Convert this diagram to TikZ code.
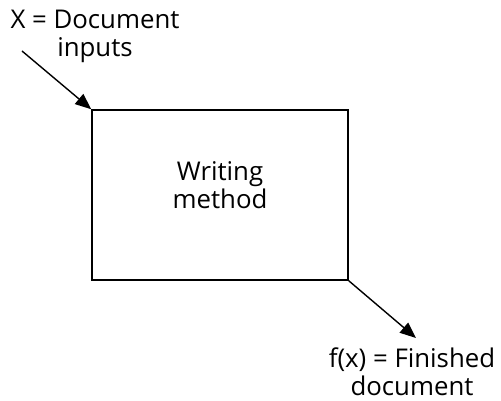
\documentclass[tikz,border=0pt]{standalone}
\usepackage{fontspec}
\setmainfont{Open Sans}
\usetikzlibrary{arrows.meta}
\begin{document}
\begin{tikzpicture}[x=1pt,y=-1pt,
  lbl/.style={align=center,font=\fontsize{25.8}{28}\selectfont,inner sep=0pt},
  box/.style={draw,line width=1.5pt,minimum width=256pt,minimum height=170pt,inner sep=0pt},
  arr/.style={line width=1.4pt,-{Triangle[length=16pt,width=13pt]}}]
\useasboundingbox (0,0) rectangle (501,401);
\node[box] (m) at (220,195) {};
\node[lbl] (wm) at (220,185) {Writing\\method};
\node[lbl] (x) at (95,36) {X = Document\\inputs};
\node[lbl] (f) at (412,372) {f(x) = Finished\\document};
\coordinate (s) at (22,51);
\coordinate (e) at (416,338);
\draw[arr] (s) -- (m.north west);
\draw[arr] (m.south east) -- (e);
\end{tikzpicture}
\end{document}
